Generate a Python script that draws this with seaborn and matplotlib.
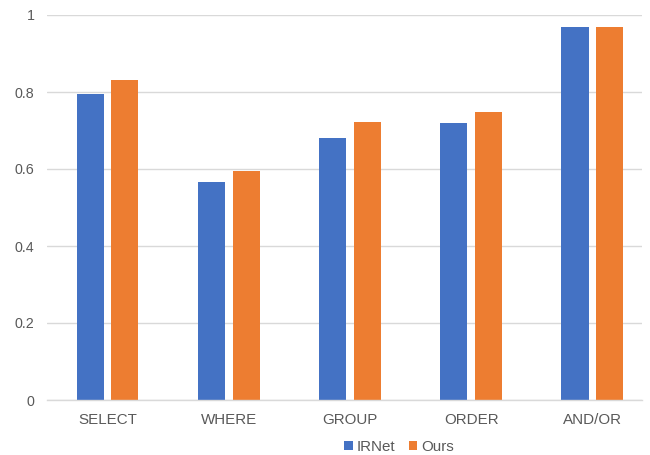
import matplotlib
matplotlib.use("Agg")
import matplotlib.pyplot as plt
import seaborn as sns
import pandas as pd

# Accuracy per SQL clause component
categories = ["SELECT", "WHERE", "GROUP", "ORDER", "AND/OR"]
irnet = [0.795, 0.567, 0.680, 0.720, 0.970]
ours = [0.832, 0.594, 0.721, 0.747, 0.970]
series_names = ["IRNet", "Ours"]
y_ticks = [0, 0.2, 0.4, 0.6, 0.8, 1]
y_tick_labels = ["0", "0.2", "0.4", "0.6", "0.8", "1"]

df = pd.DataFrame({
    "component": categories * 2,
    "acc": irnet + ours,
    "model": [series_names[0]] * len(categories) + [series_names[1]] * len(categories),
})

sns.set_theme(style="white")
plt.rcParams["font.family"] = ["Liberation Sans", "DejaVu Sans"]

W, H = 650, 455
fig = plt.figure(figsize=(W / 100, H / 100), dpi=100)
ax = fig.add_axes([47 / W, (H - 400) / H, (642 - 47) / W, (400 - 15) / H])

sns.barplot(
    data=df, x="component", y="acc", hue="model", ax=ax,
    palette=["#4472C4", "#ED7D31"], width=0.572, gap=0.22,
    saturation=1, errorbar=None, linewidth=0,
)

ax.set_xlim(-0.5, 4.41)
ax.set_ylim(0, 1)
ax.set_yticks(y_ticks)
ax.set_yticklabels(y_tick_labels)
ax.set_xlabel("")
ax.set_ylabel("")

grid_c = "#D9D9D9"
ax.yaxis.grid(True, color=grid_c, linewidth=1)
ax.set_axisbelow(True)
for side in ["left", "right", "top"]:
    ax.spines[side].set_visible(False)
ax.spines["bottom"].set_color(grid_c)
ax.spines["bottom"].set_linewidth(1)

ax.tick_params(axis="both", length=0, colors="#595959")
ax.tick_params(axis="y", labelsize=10.3, pad=9)
ax.tick_params(axis="x", labelsize=10.9, pad=9)

sns.move_legend(
    ax, "center", bbox_to_anchor=(399 / W, 1 - 447 / H),
    bbox_transform=fig.transFigure, ncol=2, frameon=False, title=None,
    fontsize=10.9, handlelength=0.55, handleheight=0.55,
    handletextpad=0.25, columnspacing=0.9, labelcolor="#595959",
)

fig.savefig("out.png", dpi=100)
